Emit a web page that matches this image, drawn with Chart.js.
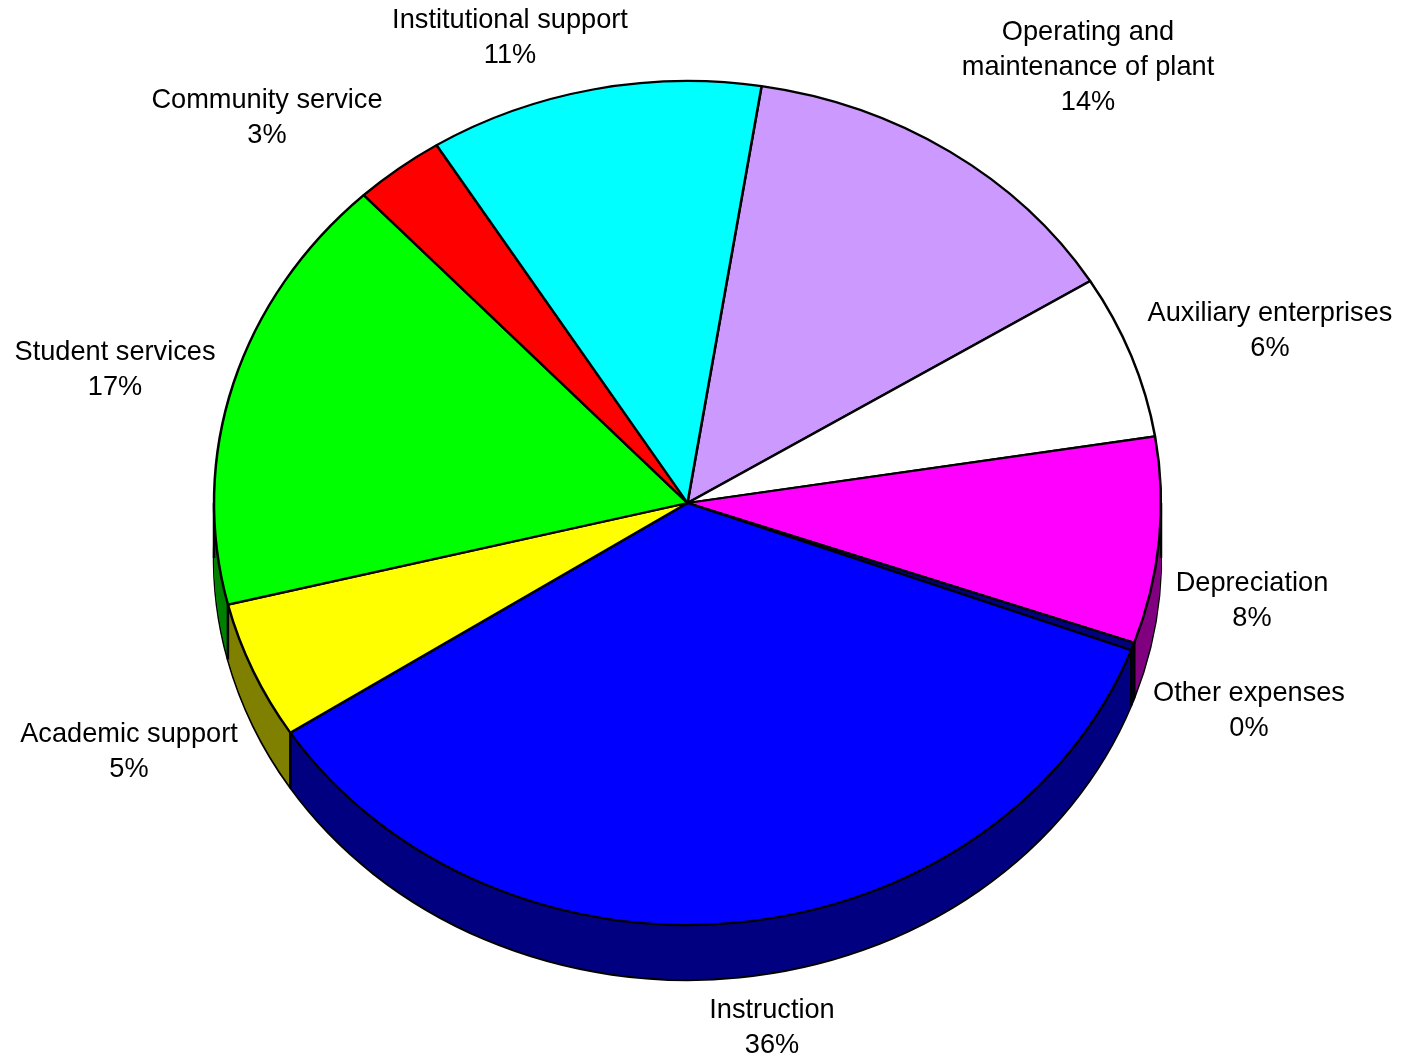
<!DOCTYPE html>
<html lang="en">
<head>
<meta charset="UTF-8" />
<title>Expenses by function</title>
<script src="https://cdn.jsdelivr.net/npm/chart.js"></script>
<style>
  html, body { margin: 0; padding: 0; background: #fff; }
  canvas { display: block; }
</style>
</head>
<body>
<canvas id="pie" width="1416" height="1058"></canvas>
<script>
// values, clockwise from the Operating slice
const categories = ['Operating and maintenance of plant', 'Auxiliary enterprises', 'Depreciation', 'Other expenses', 'Instruction', 'Academic support', 'Student services', 'Community service', 'Institutional support'];
const values = [13.7, 6.3, 7.9, 0.3, 35.2, 5.3, 16.9, 3.1, 11.4];
const percentLabels = ['14%', '6%', '8%', '0%', '36%', '5%', '17%', '3%', '11%'];
const labelLines = [['Operating and', 'maintenance of plant'], ['Auxiliary enterprises'], ['Depreciation'], ['Other expenses'], ['Instruction'], ['Academic support'], ['Student services'], ['Community service'], ['Institutional support']];
const topColors = ['#CC99FF', '#FFFFFF', '#FF00FF', '#000080', '#0000FF', '#FFFF00', '#00FF00', '#FF0000', '#00FFFF'];
const sideColors = ['#660099', '#808080', '#800080', '#000040', '#000080', '#808000', '#008000', '#800000', '#008080'];

// where each label block sits: centre x, middle of first line
const labelAnchors = [[1088, 33], [1270, 314], [1252, 584], [1249, 694], [772, 1011], [129, 735], [115, 353], [267, 101], [510, 21]];
const lineGap = 35;
const labelFont = '27.2px "Liberation Sans", Arial, sans-serif';

const radiusX = 473.5;
const tilt = 422 / 473.5;   // vertical squash of the pie
const depth = 55;
const lineW = 2.5;

function applyTilt(ctx, arc, shift) {
  ctx.translate(0, arc.y + shift);
  ctx.scale(1, tilt);
  ctx.translate(0, -arc.y);
}

function drawLayer(ctx, arcs, shift, withBorder) {
  arcs.forEach((arc, i) => {
    const opts = arc.options;
    ctx.save();
    applyTilt(ctx, arc, shift);
    arc.options = Object.assign({}, opts, {
      backgroundColor: sideColors[i],
      borderColor: withBorder ? '#000' : sideColors[i],
      borderWidth: withBorder ? lineW : 0
    });
    arc.draw(ctx);
    arc.options = opts;
    ctx.restore();
  });
}

const tiltedPie = {
  id: 'tiltedPie',
  beforeDatasetsDraw(chart) {
    const ctx = chart.ctx;
    const arcs = chart.getDatasetMeta(0).data;
    drawLayer(ctx, arcs, depth, true);
    for (let d = depth - 1; d > 0; d--) drawLayer(ctx, arcs, d, false);

    // vertical edges on the front of the side wall
    ctx.save();
    ctx.strokeStyle = '#000';
    ctx.lineWidth = lineW;
    const edges = arcs.map(a => a.startAngle).concat([0, Math.PI]);
    edges.forEach(angle => {
      const sin = Math.sin(angle);
      if (sin < 0) return;
      const x = arcs[0].x + radiusX * Math.cos(angle);
      const y = arcs[0].y + radiusX * tilt * sin;
      ctx.beginPath();
      ctx.moveTo(x, y);
      ctx.lineTo(x, y + depth);
      ctx.stroke();
    });
    ctx.restore();

    ctx.save();
    applyTilt(ctx, arcs[0], 0);
  },
  afterDatasetsDraw(chart) {
    const ctx = chart.ctx;
    ctx.restore();

    ctx.save();
    ctx.fillStyle = '#000';
    ctx.font = labelFont;
    ctx.textAlign = 'center';
    ctx.textBaseline = 'middle';
    categories.forEach((name, i) => {
      const [x, y] = labelAnchors[i];
      const lines = labelLines[i].concat(percentLabels[i]);
      lines.forEach((line, k) => ctx.fillText(line, x, y + k * lineGap));
    });
    ctx.restore();
  }
};

new Chart(document.getElementById('pie'), {
  type: 'pie',
  data: {
    labels: categories,
    datasets: [{
      data: values,
      backgroundColor: topColors,
      borderColor: '#000',
      borderWidth: lineW,
      radius: radiusX
    }]
  },
  options: {
    responsive: false,
    animation: false,
    devicePixelRatio: 1,
    rotation: 9,
    layout: { padding: { right: 41, bottom: 52 } },
    plugins: { legend: { display: false }, tooltip: { enabled: false } }
  },
  plugins: [tiltedPie]
});
</script>
</body>
</html>
